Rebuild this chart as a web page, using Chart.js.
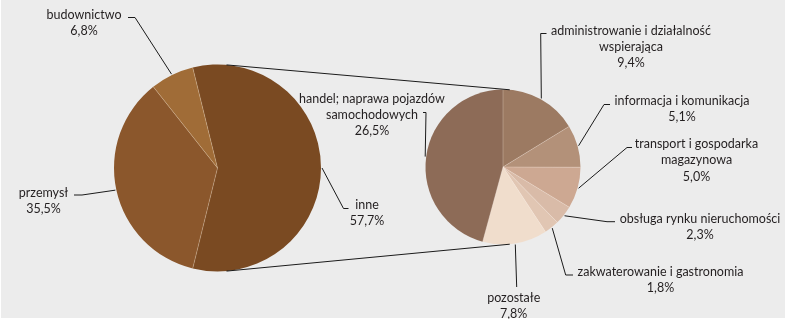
<!DOCTYPE html>
<html>
<head>
<meta charset="utf-8">
<script src="https://cdn.jsdelivr.net/npm/chart.js@4.4.1/dist/chart.umd.min.js"></script>
<style>
  html, body { margin: 0; padding: 0; background: #ffffff; }
  #wrap { position: relative; width: 785px; height: 319px; overflow: hidden; }
  #bg { position: absolute; left: 1px; top: 0; width: 784px; height: 318px; background: #ececec; }
  canvas { position: absolute; left: 0; top: 0; }
</style>
</head>
<body>
<div id="wrap">
  <div id="bg"></div>
  <canvas id="left" width="785" height="319"></canvas>
  <canvas id="right" width="785" height="319"></canvas>
</div>
<script>
// ---- DATA ----
const leftCategories = ['inne', 'przemysł', 'budownictwo'];
const leftValues = [57.7, 35.5, 6.8];
const rightCategories = [
  'administrowanie i działalność\nwspierająca',
  'informacja i komunikacja',
  'transport i gospodarka\nmagazynowa',
  'obsługa rynku nieruchomości',
  'zakwaterowanie i gastronomia',
  'pozostałe',
  'handel; naprawa pojazdów\nsamochodowych'
];
const rightValues = [9.4, 5.1, 5.0, 2.3, 1.8, 7.8, 26.5];

// ---- STYLE / LAYOUT ----
const leftColors = ['#7a4a22', '#8b572c', '#a06c37'];
const rightColors = ['#9c7a62', '#b39179', '#cda892', '#d9bba8', '#e1c6b3', '#f0ddcc', '#8d6b57'];
const FONT = '12.5px Lato, "Open Sans", sans-serif';
const TEXT_COLOR = '#231f20';
const LINE_H = 16.3;

// label layout: label centre x, first line centre y, elbow and end point of leader
const leftLabelLayout = [
  { cx: 367, y: 205, elbow: [343.5, 208.5], end: [348.5, 208.5] },
  { cx: 43.5, y: 192.5, elbow: [82, 195], end: [74, 195] },
  { cx: 84, y: 14.5, elbow: [135, 17.5], end: [128, 17.5] }
];
const rightLabelLayout = [
  { cx: 631, y: 30.5, elbow: [540.7, 33.5], end: [546.5, 33.5] },
  { cx: 682, y: 101, elbow: [604, 104.5], end: [610, 104.5] },
  { cx: 696.5, y: 144, elbow: [627, 147.5], end: [632, 147.5] },
  { cx: 700, y: 218.5, elbow: [607, 221.7], end: [615, 221.7] },
  { cx: 660.5, y: 271.5, elbow: [565.7, 275], end: [573, 275] },
  { cx: 513.7, y: 298, elbow: [516.7, 287], end: [516.7, 287] },
  { cx: 372, y: 98.5, elbow: [426, 112.5], end: [423, 112.5] }
];

function fmt(v) { return v.toFixed(1).replace('.', ',') + '%'; }

function pieInfo(chart) {
  const arcs = chart.getDatasetMeta(0).data;
  const a0 = arcs[0];
  return { x: a0.x, y: a0.y, r: a0.outerRadius, arcs: arcs };
}

const labelPlugin = {
  id: 'pieLabels',
  afterDatasetsDraw(chart, args, opts) {
    const ctx = chart.ctx;
    const info = pieInfo(chart);
    ctx.save();
    // separators between slices
    ctx.strokeStyle = opts.sepColor;
    ctx.lineWidth = 0.8;
    info.arcs.forEach(a => {
      ctx.beginPath();
      ctx.moveTo(info.x, info.y);
      ctx.lineTo(info.x + Math.cos(a.startAngle) * info.r, info.y + Math.sin(a.startAngle) * info.r);
      ctx.stroke();
    });
    // leaders and labels
    const cats = opts.categories, vals = opts.values, lay = opts.layout;
    ctx.strokeStyle = '#1a1a1a';
    ctx.lineWidth = 1;
    ctx.font = FONT;
    ctx.fillStyle = TEXT_COLOR;
    ctx.textAlign = 'center';
    ctx.textBaseline = 'middle';
    info.arcs.forEach((a, i) => {
      const mid = (a.startAngle + a.endAngle) / 2;
      const L = lay[i];
      const sx = info.x + Math.cos(mid) * (info.r + 1);
      const sy = info.y + Math.sin(mid) * (info.r + 1);
      ctx.beginPath();
      ctx.moveTo(sx, sy);
      ctx.lineTo(L.elbow[0], L.elbow[1]);
      ctx.lineTo(L.end[0], L.end[1]);
      ctx.stroke();
      const lines = cats[i].split('\n').concat([fmt(vals[i])]);
      lines.forEach((t, k) => ctx.fillText(t, L.cx, L.y + k * LINE_H));
    });
    ctx.restore();
  }
};

const connectorPlugin = {
  id: 'connectors',
  afterDatasetsDraw(chart) {
    const leftChart = Chart.getChart('left');
    if (!leftChart) return;
    const A = pieInfo(leftChart), B = pieInfo(chart);
    const ctx = chart.ctx;
    const off = 5 * Math.PI / 180;
    const topA = -Math.PI / 2 + off, botA = Math.PI / 2 - off;
    ctx.save();
    ctx.strokeStyle = '#1a1a1a';
    ctx.lineWidth = 1;
    [topA, botA].forEach(ang => {
      ctx.beginPath();
      ctx.moveTo(A.x + Math.cos(ang) * A.r, A.y + Math.sin(ang) * A.r);
      ctx.lineTo(B.x + Math.cos(ang) * B.r, B.y + Math.sin(ang) * B.r);
      ctx.stroke();
    });
    ctx.restore();
  }
};

const common = {
  responsive: false,
  animation: false,
  events: [],
  plugins: { legend: { display: false }, tooltip: { enabled: false } }
};

new Chart(document.getElementById('left'), {
  type: 'pie',
  data: { labels: leftCategories, datasets: [{ data: leftValues, backgroundColor: leftColors, borderWidth: 0 }] },
  options: Object.assign({}, common, {
    rotation: 90 - leftValues[0] / leftValues.reduce((s, v) => s + v, 0) * 180,
    layout: { padding: { left: 114, right: 464, top: 64.5, bottom: 47.5 } },
    plugins: Object.assign({}, common.plugins, {
      pieLabels: { categories: leftCategories, values: leftValues, layout: leftLabelLayout, sepColor: 'rgba(255,235,210,0.35)' }
    })
  }),
  plugins: [labelPlugin]
});

new Chart(document.getElementById('right'), {
  type: 'pie',
  data: { labels: rightCategories, datasets: [{ data: rightValues, backgroundColor: rightColors, borderWidth: 0 }] },
  options: Object.assign({}, common, {
    rotation: 0,
    layout: { padding: { left: 425.5, right: 204.5, top: 89.5, bottom: 74.5 } },
    plugins: Object.assign({}, common.plugins, {
      pieLabels: { categories: rightCategories, values: rightValues, layout: rightLabelLayout, sepColor: 'rgba(255,240,230,0.35)' }
    })
  }),
  plugins: [labelPlugin, connectorPlugin]
});
</script>
</body>
</html>
